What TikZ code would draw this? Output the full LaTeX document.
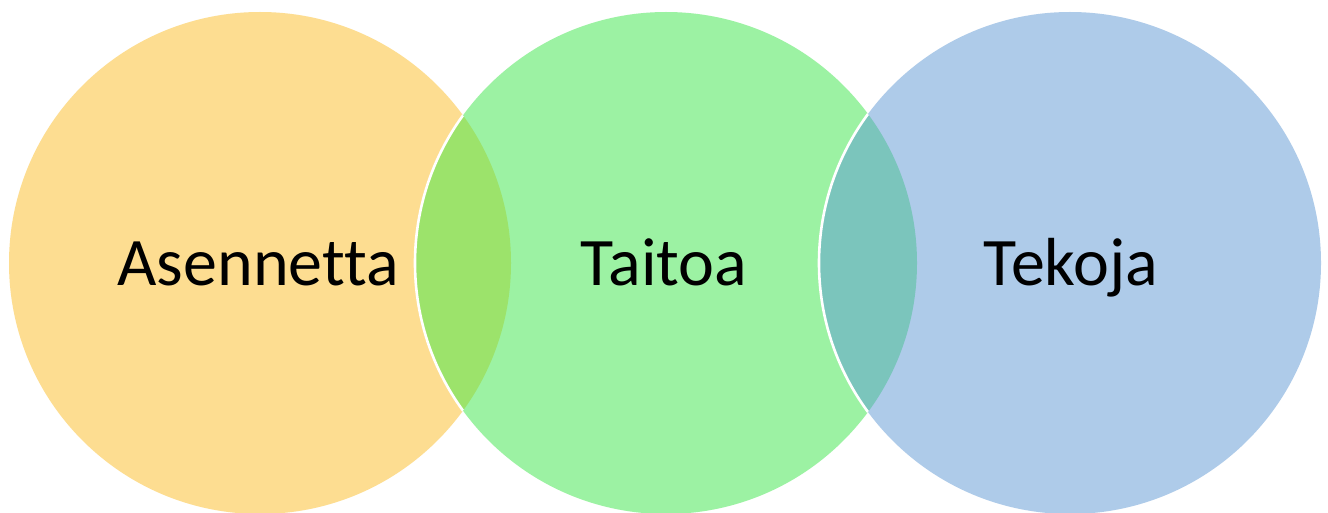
\documentclass[tikz,border=0pt]{standalone}
\usepackage{fontspec}
\setmainfont{Carlito}[Ligatures={NoCommon}]
\definecolor{cyel}{HTML}{FDDD91}
\definecolor{cgrn}{HTML}{9CF2A3}
\definecolor{cblu}{HTML}{AECBE9}
\definecolor{clensA}{HTML}{9CE36B}
\definecolor{clensB}{HTML}{7BC5BC}
\tikzset{
  lbl/.style={anchor=base, font=\fontsize{68}{80}\selectfont, text=black, inner sep=0pt},
  sep/.style={draw=white, line width=2.6pt}
}
\begin{document}
\begin{tikzpicture}[x=1pt,y=-1pt]
\useasboundingbox (0,0) rectangle (1328,513);
\fill[white] (0,0) rectangle (1328,513);
\coordinate (cA) at (260,263);
\coordinate (cB) at (666,263);
\coordinate (cC) at (1070,263);
\def\R{251}
\fill[cyel] (cA) circle (\R);
\fill[cgrn] (cB) circle (\R);
\fill[cblu] (cC) circle (\R);
\begin{scope}
  \clip (cA) circle (\R);
  \fill[clensA] (cB) circle (\R);
  \draw[sep] (cB) circle (\R);
\end{scope}
\begin{scope}
  \clip (cB) circle (\R);
  \fill[clensB] (cC) circle (\R);
  \draw[sep] (cC) circle (\R);
\end{scope}
\node[lbl] (tA) at (258,285) {Asennetta};
\node[lbl] (tB) at (664,285) {Taitoa};
\node[lbl] (tC) at (1071,285) {Tekoja};
\end{tikzpicture}
\end{document}
